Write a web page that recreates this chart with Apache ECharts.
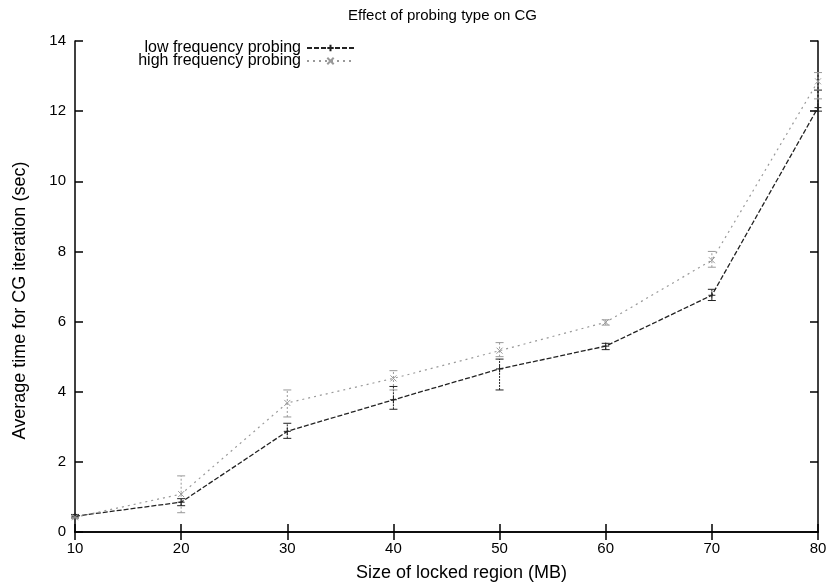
<!DOCTYPE html>
<html>
<head>
<meta charset="utf-8">
<script src="https://cdn.jsdelivr.net/npm/echarts@6/dist/echarts.min.js"></script>
<style>
html, body { margin: 0; padding: 0; background: #fff; }
#chart { width: 830px; height: 587px; }
</style>
</head>
<body>
<div id="chart"></div>
<script>
// Locked region size (MB)
const sizes = [10, 20, 30, 40, 50, 60, 70, 80];

// Low frequency probing: mean time and error range (sec)
const lowMean = [0.45, 0.85, 2.87, 3.77, 4.65, 5.3, 6.75, 12.1];
const lowMin  = [0.4, 0.75, 2.67, 3.5, 4.05, 5.2, 6.6, 12.0];
const lowMax  = [0.5, 0.95, 3.1, 4.15, 4.93, 5.38, 6.92, 12.6];

// High frequency probing: mean time and error range (sec)
const highMean = [0.42, 1.08, 3.68, 4.38, 5.17, 5.98, 7.75, 12.85];
const highMin  = [0.38, 0.55, 3.28, 4.05, 5.0, 5.9, 7.55, 12.35];
const highMax  = [0.46, 1.6, 4.05, 4.6, 5.4, 6.05, 8.0, 13.1];

const FONT = "'Liberation Sans', Arial, Helvetica, sans-serif";
const LOW_COLOR = '#222';
const HIGH_COLOR = '#999';

const plusPath = 'path://M0,5L10,5M5,0L5,10';
const crossPath = 'path://M0,0L10,10M0,10L10,0';

function errorBars(minArr, maxArr, color, dash) {
  return {
    type: 'custom',
    silent: true,
    z: 3,
    data: sizes.map((s, i) => [s, minArr[i], maxArr[i]]),
    renderItem: function (params, api) {
      const lo = api.coord([api.value(0), api.value(1)]);
      const hi = api.coord([api.value(0), api.value(2)]);
      const cap = 4;
      const style = { stroke: color, lineWidth: 1, lineDash: dash, fill: null };
      return {
        type: 'group',
        children: [
          { type: 'line', shape: { x1: lo[0], y1: lo[1], x2: hi[0], y2: hi[1] }, style: style },
          { type: 'line', shape: { x1: lo[0] - cap, y1: lo[1], x2: lo[0] + cap, y2: lo[1] }, style: { stroke: color, lineWidth: 1 } },
          { type: 'line', shape: { x1: hi[0] - cap, y1: hi[1], x2: hi[0] + cap, y2: hi[1] }, style: { stroke: color, lineWidth: 1 } }
        ]
      };
    }
  };
}

const axisCommon = {
  axisLine: { show: true, lineStyle: { color: '#000', width: 1.5 } },
  axisTick: { show: true, inside: true, length: 8, lineStyle: { color: '#000', width: 1.5 } },
  splitLine: { show: false }
};

const legendCommon = {
  orient: 'vertical',
  align: 'right',
  padding: 0,
  itemWidth: 47,
  itemHeight: 8,
  itemGap: 0,
  textStyle: { fontFamily: FONT, fontSize: 16, color: '#000', padding: [0, 1, 0, 0] }
};

const chart = echarts.init(document.getElementById('chart'), null, { renderer: 'canvas' });

chart.setOption({
  backgroundColor: '#fff',
  animation: false,
  title: {
    text: 'Effect of probing type on CG',
    left: 343,
    top: 3,
    textStyle: { fontFamily: FONT, fontSize: 15, fontWeight: 'normal', color: '#000' }
  },
  legend: [
    Object.assign({ data: ['low frequency probing'], right: 475, top: 40 }, legendCommon),
    Object.assign({ data: ['high frequency probing'], right: 475, top: 53 }, legendCommon)
  ],
  grid: { left: 75, right: 12, top: 41, bottom: 54, containLabel: false },
  xAxis: [
    Object.assign({
      type: 'value', min: 10, max: 80, interval: 10, position: 'bottom',
      name: 'Size of locked region (MB)',
      nameLocation: 'middle', nameGap: 32,
      nameTextStyle: { fontFamily: FONT, fontSize: 18, color: '#000', padding: [0, 0, 0, 30] },
      axisLabel: { fontFamily: FONT, fontSize: 15, color: '#000', margin: 9 }
    }, axisCommon),
    Object.assign({
      type: 'value', min: 10, max: 80, interval: 10, position: 'top',
      axisLabel: { show: false }
    }, axisCommon)
  ],
  yAxis: [
    Object.assign({
      type: 'value', min: 0, max: 14, interval: 2, position: 'left',
      name: 'Average time for CG iteration (sec)',
      nameLocation: 'middle', nameGap: 46,
      nameTextStyle: { fontFamily: FONT, fontSize: 18, color: '#000', padding: [0, 28, 0, 0] },
      axisLabel: { fontFamily: FONT, fontSize: 15, color: '#000', margin: 9 }
    }, axisCommon),
    Object.assign({
      type: 'value', min: 0, max: 14, interval: 2, position: 'right',
      axisLabel: { show: false }
    }, axisCommon)
  ],
  series: [
    {
      name: 'low frequency probing',
      type: 'line',
      data: sizes.map((s, i) => [s, lowMean[i]]),
      symbol: plusPath,
      symbolSize: 7,
      showAllSymbol: true,
      itemStyle: { color: LOW_COLOR, borderColor: LOW_COLOR, borderWidth: 1 },
      lineStyle: { color: LOW_COLOR, width: 1.3, type: [5, 2] },
      z: 4
    },
    {
      name: 'high frequency probing',
      type: 'line',
      data: sizes.map((s, i) => [s, highMean[i]]),
      symbol: crossPath,
      symbolSize: 6,
      showAllSymbol: true,
      itemStyle: { color: HIGH_COLOR, borderColor: HIGH_COLOR, borderWidth: 1 },
      lineStyle: { color: HIGH_COLOR, width: 1.2, type: [2, 4] },
      z: 4
    },
    errorBars(lowMin, lowMax, LOW_COLOR, [2, 1]),
    errorBars(highMin, highMax, HIGH_COLOR, [2, 2])
  ]
});
</script>
</body>
</html>
